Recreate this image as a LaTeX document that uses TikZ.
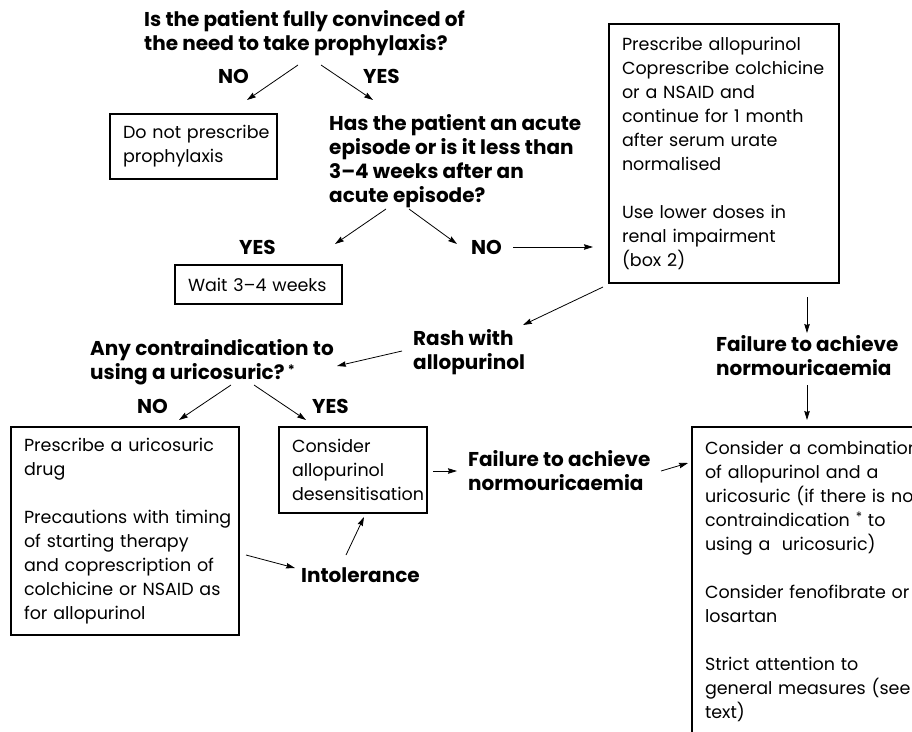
\documentclass[tikz,border=0pt]{standalone}
\usepackage{fontspec}
\setmainfont{Poppins}
\usetikzlibrary{shapes.geometric, arrows.meta}
\tikzstyle{decision} = [align=left, anchor=base west, inner sep=0pt, font=\fontsize{20}{24}\selectfont\bfseries]
\tikzstyle{answer} = [anchor=base west, inner sep=0pt, font=\fontsize{20}{24}\selectfont\bfseries]
\tikzstyle{process} = [rectangle, anchor=north west, align=left, inner xsep=13pt, inner ysep=3pt, outer sep=0pt, draw=black, line width=1.2pt, font=\fontsize{17.5}{24}\selectfont, execute at begin node={\hyphenpenalty=10000\rightskip=0pt minus 30pt}]
\tikzstyle{arrow} = [line width=0.8pt,->,>={Stealth[length=9pt,width=5.5pt,inset=1pt]}]
\newcommand{\smallstar}{\raisebox{5pt}{\fontsize{13}{13}\selectfont *}}

\begin{document}
\begin{tikzpicture}[x=1pt, y=-1pt]
	\useasboundingbox (0,0) rectangle (912,731);
	\clip (0,0) rectangle (912,731);
	\node (q1) [decision] at (144,50) {Is the patient fully convinced of\\the need to take prophylaxis?};
	\node (no1) [answer] at (218,83) {NO};
	\node (yes1) [answer] at (363,83) {YES};
	\node (noprophy) [process, text width=141pt, minimum height=65pt] at (110,114) {Do not prescribe\\prophylaxis};
	\node (q2) [decision] at (329,202) {Has the patient an acute\\episode or is it less than\\3--4 weeks after an\\acute episode?};
	\node (yes2) [answer] at (239,254) {YES};
	\node (no2) [answer] at (471,254) {NO};
	\node (wait) [process, text width=141pt, minimum height=39pt] at (175,265) {Wait 3--4 weeks};
	\node (allo) [process, text width=204pt, minimum height=259pt] at (609,24) {Prescribe allopurinol\\Coprescribe colchicine\\or a NSAID and\\continue for 1 month\\after serum urate\\normalised\\[24pt]Use lower doses in\\renal impairment\\(box 2)};
	\node (rash) [decision] at (413,369) {Rash with\\allopurinol};
	\node (fail2) [decision] at (716,375) {Failure to achieve\\normouricaemia};
	\node (q3) [decision] at (90,379) {Any contraindication to\\using a uricosuric?\,\smallstar};
	\node (no3) [answer] at (137,413) {NO};
	\node (yes3) [answer] at (312,413) {YES};
	\node (uric) [process, text width=202pt, minimum height=208pt] at (11,427) {Prescribe a uricosuric\\drug\\[24pt]Precautions with timing\\of starting therapy\\and coprescription of\\colchicine or NSAID as\\for allopurinol};
	\node (desens) [process, text width=122pt, minimum height=86pt] at (279,427) {Consider\\allopurinol\\desensitisation};
	\node (fail1) [decision] at (468,490) {Failure to achieve\\normouricaemia};
	\node (combo) [process, text width=240pt, minimum height=308pt] at (692,427) {Consider a combination\\of allopurinol and a\\uricosuric (if there is no\\contraindication \smallstar\ to\\using a\ \ uricosuric)\\[24pt]Consider fenofibrate or\\losartan\\[24pt]Strict attention to\\general measures (see\\text)};
	\node (intol) [answer] at (301,582) {Intolerance};
	\draw [arrow] ([shift={(154,15)}]q1.base west) -- ([shift={(137,-14)}]noprophy.north west);
	\draw [arrow] ([shift={(177,15)}]q1.base west) -- ([shift={(44,-102)}]q2.base west);
	\draw [arrow] ([shift={(57,7)}]q2.base west) -- ([shift={(160,-21)}]wait.north west);
	\draw [arrow] ([shift={(80,7)}]q2.base west) -- ([shift={(-14,-10)}]no2.base west);
	\draw [arrow] ([shift={(42,-7)}]no2.base west) -- ([shift={(-16,223)}]allo.north west);
	\draw [arrow] ([shift={(-6,4)}]allo.south west) -- ([shift={(110,-44)}]rash.base west);
	\draw [arrow] ([shift={(-11,-18)}]rash.base west) -- ([shift={(247,-13)}]q3.base west);
	\draw [arrow] ([shift={(141,6)}]q3.base west) -- ([shift={(168,-7)}]uric.north west);
	\draw [arrow] ([shift={(164,6)}]q3.base west) -- ([shift={(27,-7)}]desens.north west);
	\draw [arrow] ([shift={(154,44)}]desens.north west) -- ([shift={(-11,-19)}]fail1.base west);
	\draw [arrow] ([shift={(193,-19)}]fail1.base west) -- ([shift={(-4,36)}]combo.north west);
	\draw [arrow] ([shift={(-32,14)}]allo.south east) -- ([shift={(91,-42)}]fail2.base west);
	\draw [arrow] ([shift={(91,10)}]fail2.base west) -- ([shift={(115,-7)}]combo.north west);
	\draw [arrow] ([shift={(7,128)}]uric.north east) -- ([shift={(-6,-14)}]intol.base west);
	\draw [arrow] ([shift={(45,-27)}]intol.base west) -- ([shift={(85,4)}]desens.south west);
\end{tikzpicture}
\end{document}
